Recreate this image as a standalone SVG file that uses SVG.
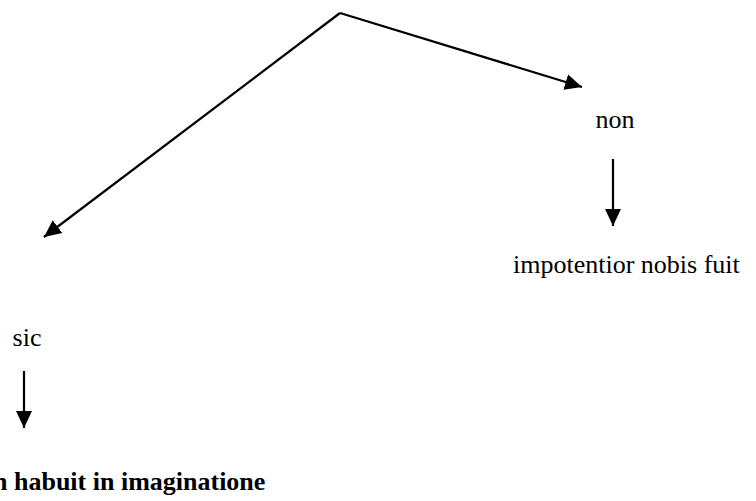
<svg xmlns="http://www.w3.org/2000/svg" width="756" height="501" viewBox="0 0 756 501">
<style>
.t{font-family:"Liberation Serif","Times New Roman",serif;font-size:26px;fill:#000}
.b{font-weight:bold}
.c{stroke:#000;stroke-width:2.2;fill:none;stroke-linejoin:miter}
</style>
<defs>
<marker id="ah" markerUnits="userSpaceOnUse" markerWidth="18" markerHeight="18" viewBox="0 0 18 18" refX="17" refY="9" orient="auto">
<path d="M0,1 L17,9 L0,17 Z" fill="#000"/>
</marker>
</defs>
<rect width="756" height="501" fill="#fff"/>
<g id="connectors">
<path class="c" d="M340,13 L582,87" marker-end="url(#ah)"/>
<path class="c" d="M340,13 L44,237" marker-end="url(#ah)"/>
<path class="c" d="M613,159 L613,226" marker-end="url(#ah)"/>
<path class="c" d="M24,371 L24,428" marker-end="url(#ah)"/>
</g>
<g id="non"><text class="t" x="615" y="128" text-anchor="middle">non</text></g>
<g id="impotentior"><text class="t" x="513" y="273">impotentior nobis fuit</text></g>
<g id="sic"><text class="t" x="27" y="346" text-anchor="middle">sic</text></g>
<g id="habuit"><text class="t b" x="-7" y="490">n habuit in imaginatione</text></g>
</svg>
